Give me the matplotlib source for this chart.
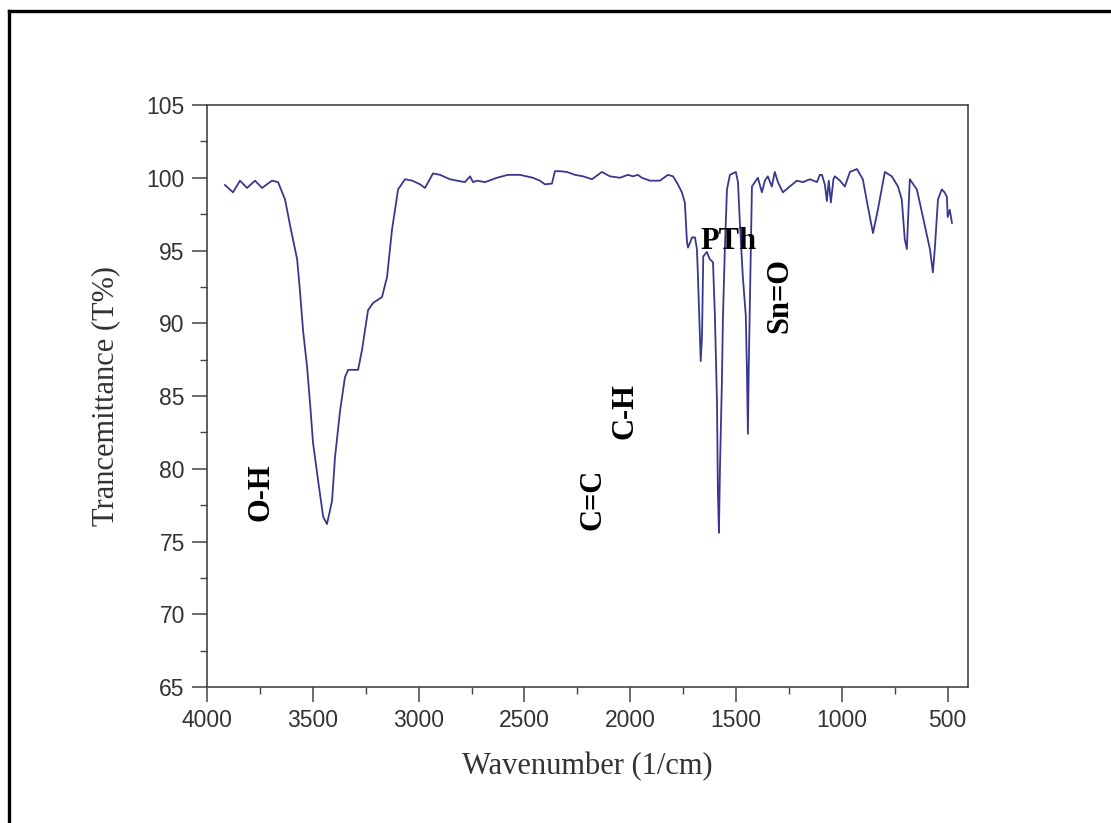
import matplotlib
matplotlib.use('Agg')
import matplotlib.pyplot as plt
from matplotlib.lines import Line2D
from matplotlib.ticker import MultipleLocator

# FTIR spectrum (wavenumber in 1/cm, transmittance in %)
wavenumber = [3915, 3877, 3844, 3811, 3773, 3740, 3693, 3664, 3631, 3607,
              3574, 3560, 3546, 3527, 3513, 3499, 3475, 3451, 3433, 3409,
              3395, 3371, 3348, 3333, 3286, 3267, 3239, 3215, 3173, 3149,
              3126, 3097, 3064, 3030, 2993, 2970, 2932, 2899, 2852, 2819,
              2781, 2757, 2743, 2724, 2686, 2630, 2578, 2521, 2460, 2427,
              2403, 2370, 2356, 2332, 2299, 2261, 2223, 2181, 2134, 2096,
              2049, 2011, 1987, 1964, 1945, 1907, 1860, 1822, 1798, 1775,
              1756, 1742, 1732, 1727, 1708, 1694, 1685, 1680, 1673, 1667,
              1661, 1655, 1638, 1624, 1609, 1600, 1590, 1586, 1581, 1576,
              1567, 1562, 1553, 1543, 1529, 1501, 1491, 1482, 1468, 1454,
              1449, 1444, 1440, 1430, 1425, 1411, 1397, 1378, 1364, 1350,
              1331, 1317, 1302, 1279, 1246, 1213, 1184, 1151, 1118, 1104,
              1094, 1080, 1071, 1062, 1052, 1040, 1033, 1009, 986, 962,
              929, 901, 877, 853, 830, 797, 764, 735, 717, 703,
              693, 688, 679, 646, 632, 608, 584, 570, 561, 546,
              528, 515, 504, 500, 490, 480]
transmittance = [99.5, 99.0, 99.8, 99.3, 99.8, 99.3, 99.8, 99.7, 98.5, 96.7,
                 94.4, 92.1, 89.5, 87.0, 84.5, 81.8, 79.2, 76.7, 76.2, 77.8,
                 80.8, 84.0, 86.3, 86.8, 86.8, 88.2, 90.9, 91.4, 91.8, 93.2,
                 96.4, 99.2, 99.9, 99.8, 99.55, 99.3, 100.3, 100.2, 99.9, 99.8,
                 99.7, 100.1, 99.7, 99.8, 99.7, 100.0, 100.2, 100.2, 100.0, 99.8,
                 99.55, 99.6, 100.45, 100.45, 100.4, 100.2, 100.1, 99.9, 100.4, 100.1,
                 100.0, 100.2, 100.1, 100.2, 100.0, 99.8, 99.8, 100.2, 100.1, 99.55,
                 99.0, 98.3, 95.6, 95.2, 95.9, 95.9, 95.1, 93.2, 90.0, 87.4,
                 89.1, 94.6, 94.9, 94.4, 94.2, 90.5, 84.5, 78.5, 75.6, 80.1,
                 85.9, 90.4, 95.1, 99.2, 100.2, 100.4, 99.7, 96.9, 93.2, 90.5,
                 87.0, 82.4, 87.0, 95.1, 99.4, 99.7, 100.0, 99.0, 99.8, 100.1,
                 99.4, 100.4, 99.7, 99.0, 99.4, 99.8, 99.7, 99.9, 99.7, 100.2,
                 100.2, 99.5, 98.4, 99.8, 98.3, 99.9, 100.1, 99.8, 99.4, 100.4,
                 100.6, 99.9, 98.0, 96.2, 97.8, 100.4, 100.1, 99.4, 98.5, 95.8,
                 95.1, 96.9, 99.9, 99.2, 98.3, 96.7, 95.1, 93.5, 95.1, 98.5,
                 99.2, 99.0, 98.7, 97.3, 97.8, 96.9]

# band labels: text, wavenumber, transmittance, rotation
band_labels = ['O-H', 'C=C', 'C-H', 'PTh', 'Sn=O']
band_x = [3745, 2176, 2025, 1538, 1294]
band_y = [78.4, 77.9, 84.0, 95.6, 91.9]
band_rot = [90, 90, 90, 0, 90]

xticks = [4000, 3500, 3000, 2500, 2000, 1500, 1000, 500]
yticks = [65, 70, 75, 80, 85, 90, 95, 100, 105]

fig = plt.figure(figsize=(11.11, 8.23), dpi=100)
ax = fig.add_axes([0.1863, 0.1652, 0.685, 0.7072])

ax.plot(wavenumber, transmittance, color='#38388f', lw=1.3)

ax.set_xlim(4000, 404)
ax.set_ylim(65, 105)
ax.set_xticks(xticks)
ax.set_yticks(yticks)
ax.xaxis.set_minor_locator(MultipleLocator(250))
ax.yaxis.set_minor_locator(MultipleLocator(2.5))
ax.tick_params(which='major', direction='out', length=11, width=1.1,
               color='#444444', labelsize=16.5, labelcolor='#333333', pad=5)
ax.tick_params(which='minor', direction='out', length=5, width=1.0, color='#444444')
for lab in ax.get_xticklabels() + ax.get_yticklabels():
    lab.set_fontfamily('Liberation Sans')
for s in ax.spines.values():
    s.set_color('#444444')
    s.set_linewidth(1.2)

ax.set_xlabel('Wavenumber (1/cm)', fontsize=22, family='Liberation Serif',
              color='#333333', labelpad=14)
ax.set_ylabel('Trancemittance (T%)', fontsize=22, family='Liberation Serif',
              color='#333333', labelpad=19)

for t, x, y, r in zip(band_labels, band_x, band_y, band_rot):
    ax.text(x, y, t, rotation=r, ha='center', va='center', fontsize=22,
            fontweight='bold', family='Liberation Serif', color='black')

# black frame around the picture (only left and top edges visible)
fig.add_artist(Line2D([9/1111, 9/1111], [0, 1 - 11/823], color='black',
                      lw=2.4, transform=fig.transFigure))
fig.add_artist(Line2D([9/1111, 1], [1 - 11/823, 1 - 11/823], color='black',
                      lw=2.4, transform=fig.transFigure))

fig.savefig('out.png', dpi=100, facecolor='white')
